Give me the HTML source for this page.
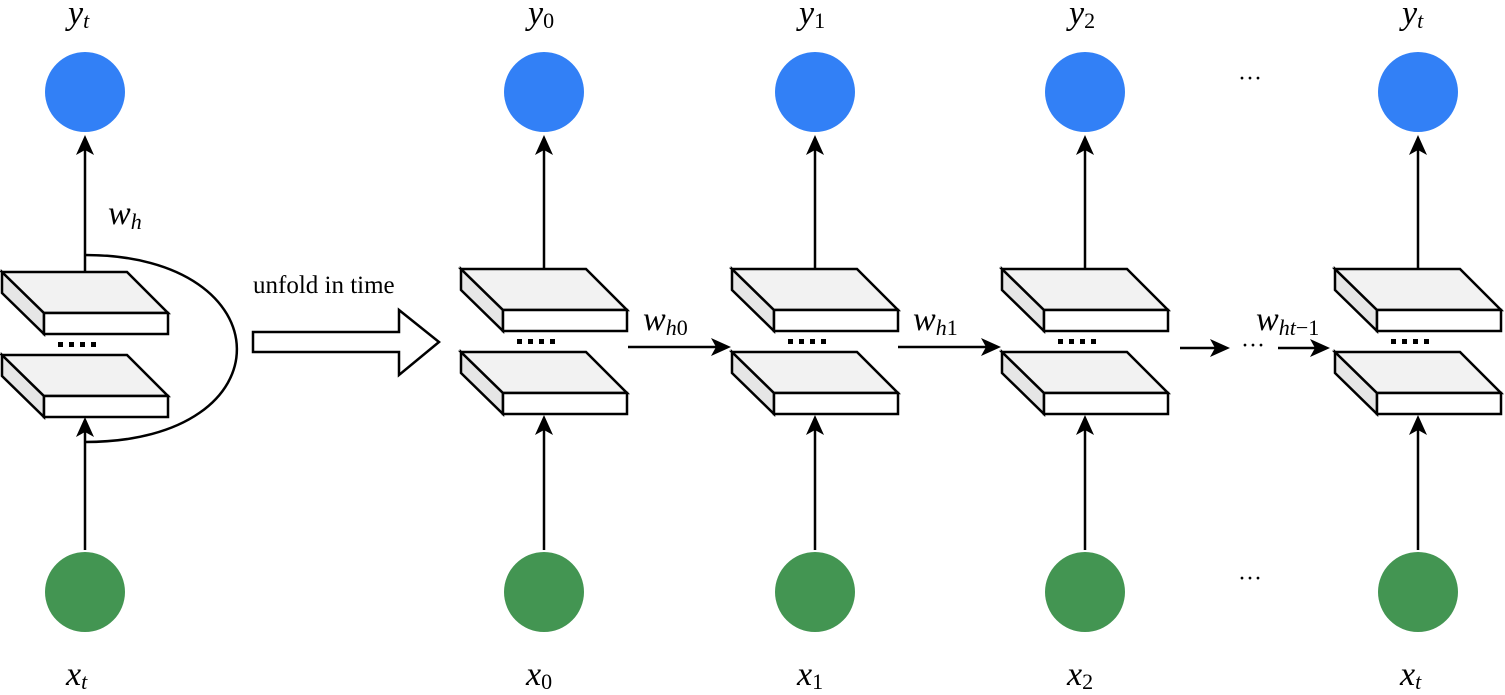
<!DOCTYPE html>
<html><head><meta charset="utf-8"><style>
html,body{margin:0;padding:0;background:#fff;}
svg{display:block;}
text{font-family:"Liberation Serif",serif;fill:#000;}
.m{font-style:italic;font-size:34px;}
.s{font-style:italic;font-size:22px;}
.n{font-style:normal;}
</style></head><body>
<svg width="1505" height="695" viewBox="0 0 1505 695" xmlns="http://www.w3.org/2000/svg">
<defs>
<g id="slab" stroke="#000" stroke-width="2.5" stroke-linejoin="miter">
<path d="M0,0 L42,41 L42,62 L0,21 Z" fill="#e6e6e6"/>
<path d="M0,0 L125,0 L166,41 L42,41 Z" fill="#f2f2f2"/>
<rect x="42" y="41" width="124" height="21" fill="#fff"/>
</g>
<g id="blk">
<use href="#slab" x="0" y="0"/>
<use href="#slab" x="0" y="83"/>
<g fill="#000"><rect x="56" y="70" width="5" height="5"/><rect x="67" y="70" width="5" height="5"/><rect x="78" y="70" width="5" height="5"/><rect x="89" y="70" width="5" height="5"/></g>
</g>
<path id="up" d="M0,0 L-9,20 L0,15 L9,20 Z" fill="#000"/>
<path id="rt" d="M0,0 L-20,-9 L-15,0 L-20,9 Z" fill="#000"/>
</defs>

<g stroke="#000" stroke-width="2.5" fill="none">
<path d="M85,255 C285,255 290,442 85,442"/>
<line x1="85" y1="272" x2="85" y2="145"/>
<line x1="85" y1="550" x2="85" y2="427"/>
<line x1="544" y1="269" x2="544" y2="145"/>
<line x1="544" y1="550" x2="544" y2="425"/>
<line x1="815" y1="269" x2="815" y2="145"/>
<line x1="815" y1="550" x2="815" y2="425"/>
<line x1="1085" y1="269" x2="1085" y2="145"/>
<line x1="1085" y1="550" x2="1085" y2="425"/>
<line x1="1418" y1="269" x2="1418" y2="145"/>
<line x1="1418" y1="550" x2="1418" y2="425"/>
<line x1="628" y1="347" x2="720" y2="347"/>
<line x1="898" y1="347" x2="990" y2="347"/>
<line x1="1180" y1="348" x2="1220" y2="348"/>
<line x1="1278" y1="348" x2="1320" y2="348"/>
</g>
<use href="#up" x="85" y="135"/><use href="#up" x="85" y="417"/>
<use href="#up" x="544" y="135"/><use href="#up" x="544" y="415"/>
<use href="#up" x="815" y="135"/><use href="#up" x="815" y="415"/>
<use href="#up" x="1085" y="135"/><use href="#up" x="1085" y="415"/>
<use href="#up" x="1418" y="135"/><use href="#up" x="1418" y="415"/>
<use href="#rt" x="731" y="347"/><use href="#rt" x="1001" y="347"/>
<use href="#rt" x="1230" y="348"/><use href="#rt" x="1330" y="348"/>

<use href="#blk" x="2" y="272"/>
<use href="#blk" x="461" y="269"/>
<use href="#blk" x="732" y="269"/>
<use href="#blk" x="1002" y="269"/>
<use href="#blk" x="1335" y="269"/>

<g fill="#3280f6">
<circle cx="85" cy="92" r="40"/><circle cx="544" cy="92" r="40"/><circle cx="815" cy="92" r="40"/><circle cx="1085" cy="92" r="40"/><circle cx="1418" cy="92" r="40"/>
</g>
<g fill="#439552">
<circle cx="85" cy="592" r="40"/><circle cx="544" cy="592" r="40"/><circle cx="815" cy="592" r="40"/><circle cx="1085" cy="592" r="40"/><circle cx="1418" cy="592" r="40"/>
</g>

<text class="m" x="68" y="24">y<tspan class="s" dy="4">t</tspan></text>
<text class="m" x="66" y="685">x<tspan class="s" dy="4">t</tspan></text>
<text class="m" x="108" y="224">w<tspan class="s" dy="5">h</tspan></text>
<text x="253" y="293" font-size="25">unfold in time</text>
<path d="M253,332 L399,332 L399,310 L439,342 L399,375 L399,352 L253,352 Z" fill="#fff" stroke="#000" stroke-width="2.5"/>

<text class="m" x="528" y="24">y<tspan class="s n" dy="4">0</tspan></text>
<text class="m" x="526" y="685">x<tspan class="s n" dy="4">0</tspan></text>
<text class="m" x="799" y="24">y<tspan class="s n" dy="4">1</tspan></text>
<text class="m" x="797" y="685">x<tspan class="s n" dy="4">1</tspan></text>
<text class="m" x="1069" y="24">y<tspan class="s n" dy="4">2</tspan></text>
<text class="m" x="1067" y="685">x<tspan class="s n" dy="4">2</tspan></text>
<text class="m" x="1402" y="24">y<tspan class="s" dy="4">t</tspan></text>
<text class="m" x="1400" y="685">x<tspan class="s" dy="4">t</tspan></text>

<text class="m" x="643" y="330">w<tspan class="s" dy="5">h<tspan class="n">0</tspan></tspan></text>
<text class="m" x="913" y="330">w<tspan class="s" dy="5">h<tspan class="n">1</tspan></tspan></text>
<text class="m" x="1256" y="330">w<tspan class="s" dy="5">ht<tspan class="n">−1</tspan></tspan></text>
<text x="1241" y="353" font-size="24">···</text>
<text x="1238" y="86" font-size="24">···</text>
<text x="1238" y="586" font-size="24">···</text>
</svg>
</body></html>
